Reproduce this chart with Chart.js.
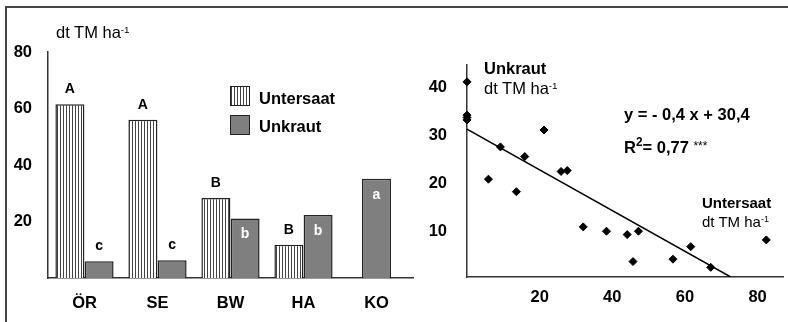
<!DOCTYPE html>
<html lang="de">
<head>
  <meta charset="UTF-8" />
  <title>Untersaat / Unkraut</title>
  <script src="https://cdn.jsdelivr.net/npm/chart.js"></script>
  <style>
    * { box-sizing: border-box; }
    body {
      margin: 0;
      width: 788px;
      height: 322px;
      overflow: hidden;
      background: #fff;
      font-family: 'Liberation Sans', Arial, sans-serif;
      color: #000;
      position: relative;
    }
    .frame {
      position: absolute;
      left: 5px;
      top: 6px;
      width: 800px;
      height: 330px;
      border-top: 2px solid #444;
      border-left: 2px solid #444;
    }
    #barBox { position: absolute; left: 0; top: 0; width: 420px; height: 322px; }
    #scatterBox { position: absolute; left: 400px; top: 0; width: 388px; height: 322px; }
    .txt { position: absolute; white-space: nowrap; line-height: 20px; }
    .b { font-weight: bold; }
    sup { font-size: 0.6em; vertical-align: 0; position: relative; top: -0.55em; }
    sup.big { font-size: 0.72em; top: -0.62em; }
    .swatch {
      position: absolute;
      width: 20px;
      height: 20px;
      border: 1.5px solid #222;
    }
    .sw-us { background: repeating-linear-gradient(90deg, #444 0 1px, #fff 1px 3px); }
    .sw-uk { background: #7f7f7f; }
  </style>
</head>
<body>
  <div class="frame"></div>

  <div id="barBox"><canvas id="barChart" width="420" height="322"></canvas></div>
  <div id="scatterBox"><canvas id="scatterChart" width="388" height="322"></canvas></div>

  <!-- left chart texts -->
  <div class="txt" style="left:56px; top:22px; font-size:16.5px;">dt TM ha<sup>-1</sup></div>
  <div class="swatch sw-us" style="left:230px; top:86px;"></div>
  <div class="txt b" style="left:259px; top:88px; font-size:16.5px;">Untersaat</div>
  <div class="swatch sw-uk" style="left:230px; top:115px;"></div>
  <div class="txt b" style="left:259px; top:116px; font-size:16.5px;">Unkraut</div>

  <!-- right chart texts -->
  <div class="txt b" style="left:484px; top:58px; font-size:16.5px;">Unkraut</div>
  <div class="txt" style="left:484px; top:78px; font-size:16.5px;">dt TM ha<sup>-1</sup></div>
  <div class="txt b" style="left:624px; top:104px; font-size:16.5px;">y = - 0,4 x + 30,4</div>
  <div class="txt b" style="left:624px; top:137px; font-size:16.5px;">R<sup class="big">2</sup>= 0,77 <span style="font-weight:normal; font-size:12px; position:relative; top:-3px;">***</span></div>
  <div class="txt b" style="left:702px; top:193px; font-size:15px;">Untersaat</div>
  <div class="txt" style="left:702px; top:212px; font-size:15px;">dt TM ha<sup>-1</sup></div>

  <script>
    // bar chart data
    const categories = ['ÖR', 'SE', 'BW', 'HA', 'KO'];
    const untersaat = [61.5, 56.0, 28.3, 11.8, null];
    const unkraut = [5.9, 6.3, 21.1, 22.3, 35.1];
    const untersaatLetters = ['A', 'A', 'B', 'B', ''];
    const unkrautLetters = ['c', 'c', 'b', 'b', 'a'];

    // scatter data: x = Untersaat, y = Unkraut (dt TM/ha)
    const pointX = [0, 0, 0, 0, 5.9, 9.2, 13.6, 15.9, 21.2, 25.9, 27.6, 32.0, 38.4, 44.1, 45.7, 47.2, 56.7, 61.6, 67.1, 82.4];
    const pointY = [40.5, 33.6, 33.1, 32.6, 20.3, 27.0, 17.7, 25.0, 30.5, 21.9, 22.1, 10.4, 9.5, 8.8, 3.2, 9.5, 3.7, 6.3, 2.0, 7.7];
    const trendX = [0, 72.6];
    const trendY = [30.7, 0];

    Chart.defaults.font.family = "'Liberation Sans', Arial, sans-serif";
    Chart.defaults.color = '#000';

    const tickFont = { size: 16.5, weight: 'bold' };
    const axisBorder = { color: '#333', width: 1.5 };

    function stripes(ctx) {
      const c = document.createElement('canvas');
      c.width = 3; c.height = 4;
      const g = c.getContext('2d');
      g.fillStyle = '#fff';
      g.fillRect(0, 0, 3, 4);
      g.fillStyle = '#444';
      g.fillRect(0, 0, 1, 4);
      return ctx.createPattern(c, 'repeat');
    }

    const barLetters = {
      id: 'barLetters',
      afterDatasetsDraw(chart) {
        const ctx = chart.ctx;
        ctx.save();
        ctx.font = "bold 14px 'Liberation Sans', Arial, sans-serif";
        ctx.textAlign = 'center';
        ctx.textBaseline = 'middle';
        [untersaatLetters, unkrautLetters].forEach((letters, di) => {
          chart.getDatasetMeta(di).data.forEach((bar, i) => {
            const t = letters[i];
            if (!t) return;
            const h = bar.base - bar.y;
            if (di === 1 && h > 40) {
              ctx.fillStyle = '#fff';
              ctx.fillText(t, bar.x, bar.y + 16);
            } else {
              ctx.fillStyle = '#000';
              ctx.fillText(t, bar.x, bar.y - 15);
            }
          });
        });
        ctx.restore();
      }
    };

    const barCtx = document.getElementById('barChart').getContext('2d');
    new Chart(barCtx, {
      type: 'bar',
      data: {
        labels: categories,
        datasets: [
          { label: 'Untersaat', data: untersaat, backgroundColor: stripes(barCtx) },
          { label: 'Unkraut', data: unkraut, backgroundColor: '#7f7f7f' }
        ]
      },
      options: {
        responsive: false,
        animation: false,
        datasets: {
          bar: {
            barPercentage: 1,
            categoryPercentage: 0.8,
            maxBarThickness: 29,
            skipNull: true,
            borderColor: '#222',
            borderWidth: 1.5
          }
        },
        layout: { padding: { top: 52, right: 7, left: 0, bottom: 0 } },
        plugins: { legend: { display: false }, tooltip: { enabled: false } },
        scales: {
          x: {
            grid: { display: false },
            border: axisBorder,
            ticks: { font: tickFont, padding: 8 },
            afterFit: s => { s.height = 44; }
          },
          y: {
            min: 0,
            max: 80,
            grid: { display: false },
            border: axisBorder,
            ticks: { stepSize: 20, font: tickFont, padding: 8, callback: v => v === 0 ? '' : v },
            afterFit: s => { s.width = 48; }
          }
        }
      },
      plugins: [barLetters]
    });

    new Chart(document.getElementById('scatterChart'), {
      type: 'scatter',
      data: {
        datasets: [
          {
            data: pointX.map((x, i) => ({ x, y: pointY[i] })),
            pointStyle: 'rectRot',
            pointRadius: 4,
            backgroundColor: '#000',
            borderColor: '#000',
            borderWidth: 1,
            clip: false
          },
          {
            data: trendX.map((x, i) => ({ x, y: trendY[i] })),
            showLine: true,
            pointRadius: 0,
            borderColor: '#000',
            borderWidth: 1.5
          }
        ]
      },
      options: {
        responsive: false,
        animation: false,
        layout: { padding: { top: 65, right: 0, left: 0, bottom: 0 } },
        plugins: { legend: { display: false }, tooltip: { enabled: false } },
        scales: {
          x: {
            type: 'linear',
            min: 0,
            max: 87,
            grid: { display: false },
            border: axisBorder,
            ticks: { stepSize: 20, includeBounds: false, font: tickFont, padding: 3, callback: v => v === 0 ? '' : v },
            afterFit: s => { s.height = 45; }
          },
          y: {
            min: 0,
            max: 44,
            grid: { display: false },
            border: axisBorder,
            ticks: { stepSize: 10, includeBounds: false, font: tickFont, padding: 12, labelOffset: 3, callback: v => v === 0 ? '' : v },
            afterFit: s => { s.width = 67; }
          }
        }
      }
    });
  </script>
</body>
</html>
